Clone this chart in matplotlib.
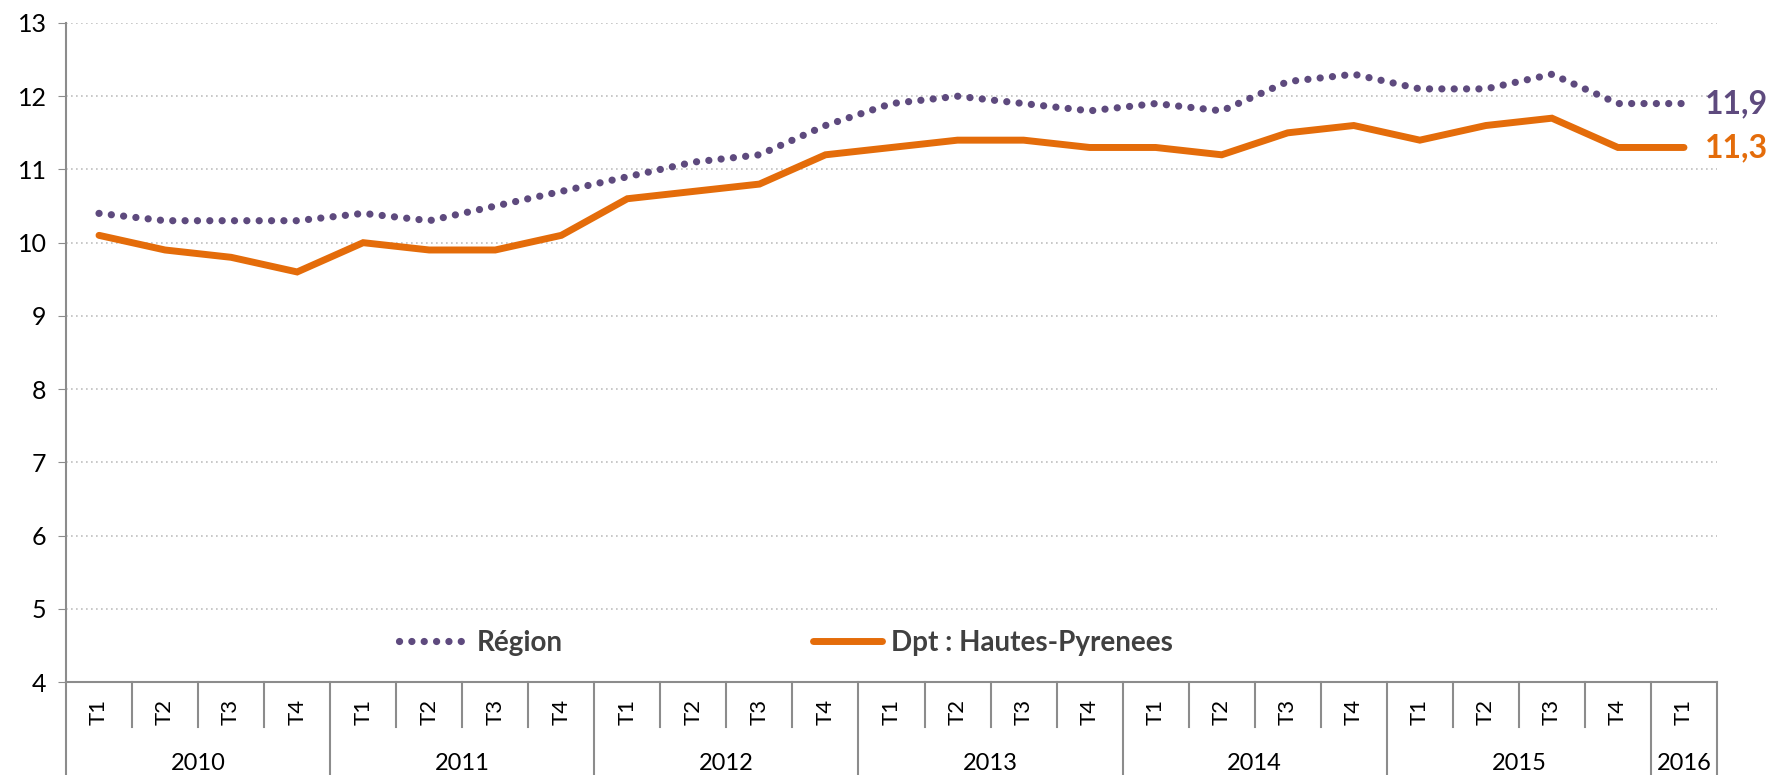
import matplotlib.pyplot as plt
import matplotlib.transforms as mtransforms
import numpy as np

plt.rcParams['font.family'] = ['Lato', 'DejaVu Sans']

years = ['2010', '2011', '2012', '2013', '2014', '2015', '2016']
quarters_per_year = [4, 4, 4, 4, 4, 4, 1]
quarter_labels = ['T1', 'T2', 'T3', 'T4'] * 6 + ['T1']

region = [10.4, 10.3, 10.3, 10.3, 10.4, 10.3, 10.5, 10.7, 10.9, 11.1, 11.2, 11.6,
          11.9, 12.0, 11.9, 11.8, 11.9, 11.8, 12.2, 12.3, 12.1, 12.1, 12.3, 11.9, 11.9]
dpt = [10.1, 9.9, 9.8, 9.6, 10.0, 9.9, 9.9, 10.1, 10.6, 10.7, 10.8, 11.2,
       11.3, 11.4, 11.4, 11.3, 11.3, 11.2, 11.5, 11.6, 11.4, 11.6, 11.7, 11.3, 11.3]

purple = '#5e4a7e'
orange = '#e46c0a'
grey = '#8c8c8c'

fig = plt.figure(figsize=(17.8, 7.75), dpi=100)
ax = fig.add_axes([66 / 1780, 1 - 682 / 775, 1651 / 1780, 659 / 775])

x = np.arange(len(region))
ax.plot(x, region, color=purple, lw=5.2, linestyle=(0, (0.01, 1.7)),
        dash_capstyle='round', label='Région')
ax.plot(x, dpt, color=orange, lw=5, solid_capstyle='round', solid_joinstyle='miter',
        label='Dpt : Hautes-Pyrenees')

ax.set_xlim(-0.5, len(region) - 0.5)
ax.set_ylim(4, 13)
ax.set_yticks(range(4, 14))
ax.tick_params(axis='y', labelsize=18, length=6, color=grey, pad=8)
ax.set_xticks([])
ax.yaxis.grid(True, color='#bfbfbf', linestyle=(0, (1, 2)), lw=1.2)
ax.set_axisbelow(True)
for s in ['top', 'right']:
    ax.spines[s].set_visible(False)
ax.spines['left'].set_color(grey)
ax.spines['bottom'].set_color(grey)
ax.spines['left'].set_linewidth(1.5)
ax.spines['bottom'].set_linewidth(1.5)

# end labels
ax.annotate('11,9', (x[-1], region[-1]), xytext=(15, 0), textcoords='offset points',
            color=purple, fontsize=23, fontweight='bold', va='center', annotation_clip=False)
ax.annotate('11,3', (x[-1], dpt[-1]), xytext=(15, 0), textcoords='offset points',
            color=orange, fontsize=23, fontweight='bold', va='center', annotation_clip=False)

# two-level category axis
trans = mtransforms.blended_transform_factory(ax.transData, ax.transAxes)
y_q = -45 / 659
y_bottom = -93 / 659
for i, lab in enumerate(quarter_labels):
    ax.text(i, -30 / 659, lab, transform=trans, rotation=90, ha='center', va='center',
            fontsize=16, color='black')
pos = -0.5
ax.plot([pos, pos], [0, y_bottom], transform=trans, color=grey, lw=1.5, clip_on=False)
for yr, n in zip(years, quarters_per_year):
    for k in range(1, n):
        ax.plot([pos + k, pos + k], [0, y_q], transform=trans, color=grey, lw=1.5, clip_on=False)
    ax.text(pos + n / 2, -81 / 659, yr, transform=trans, ha='center', va='center',
            fontsize=17, color='black')
    pos += n
    ax.plot([pos, pos], [0, y_bottom], transform=trans, color=grey, lw=1.5, clip_on=False)

leg = ax.legend(loc='center', bbox_to_anchor=(0.436, 0.059), ncol=2, frameon=False,
                handlelength=2.5, handletextpad=0.3, columnspacing=9.0,
                prop={'weight': 'bold', 'size': 20})
for t in leg.get_texts():
    t.set_color('#404040')

fig.savefig('out.png', dpi=100)
